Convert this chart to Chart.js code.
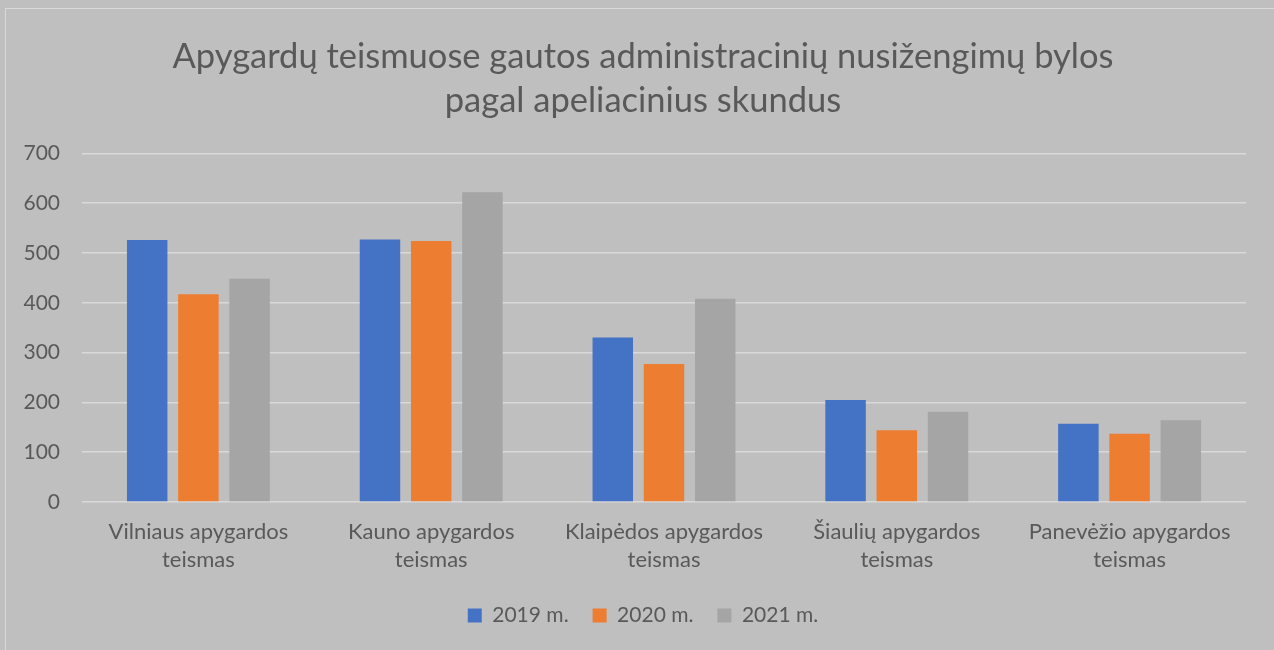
<!DOCTYPE html>
<html>
<head>
<meta charset="utf-8">
<script src="https://cdn.jsdelivr.net/npm/chart.js@4"></script>
<style>
  html, body { margin: 0; padding: 0; background: #bfbfbf; }
  #wrap { position: relative; width: 1274px; height: 650px; overflow: hidden; }
  #frame { position: absolute; left: 5px; top: 8px; width: 1290px; height: 660px; border: 1.5px solid #d9d9d9; box-sizing: border-box; }
  canvas { position: absolute; left: 0; top: 0; }
</style>
</head>
<body>
<div id="wrap">
  <div id="frame"></div>
  <canvas id="chart" width="1274" height="650"></canvas>
</div>
<script>
const categories = [
    ['Vilniaus apygardos', 'teismas'],
    ['Kauno apygardos', 'teismas'],
    ['Klaipėdos apygardos', 'teismas'],
    ['Šiaulių apygardos', 'teismas'],
    ['Panevėžio apygardos', 'teismas']
];
const values2019 = [526, 527, 330, 205, 157];
const values2020 = [417, 524, 277, 144, 137];
const values2021 = [448, 622, 408, 181, 164];
const seriesLabels = ['2019 m.', '2020 m.', '2021 m.'];
const colours = ['#4472C4', '#ED7D31', '#A5A5A5'];

const fontFamily = "Lato, 'Open Sans', sans-serif";
const textColour = '#595959';

document.addEventListener("DOMContentLoaded", function () {
    const series = [values2019, values2020, values2021];
    new Chart(document.getElementById('chart'), {
        type: 'bar',
        data: {
            labels: categories,
            datasets: series.map((vals, i) => ({
                label: seriesLabels[i],
                data: vals,
                backgroundColor: colours[i],
                borderWidth: 0,
                categoryPercentage: 0.66,
                barPercentage: 0.79
            }))
        },
        options: {
            responsive: false,
            animation: false,
            layout: { padding: { top: 35, right: 0, bottom: 14, left: 12 } },
            plugins: {
                title: {
                    display: true,
                    text: ['Apygardų teismuose gautos administracinių nusižengimų bylos', 'pagal apeliacinius skundus'],
                    color: textColour,
                    font: { family: fontFamily, size: 34.5, weight: 'normal', lineHeight: 1.28 },
                    padding: { top: 0, bottom: 30 }
                },
                legend: {
                    position: 'bottom',
                    labels: {
                        color: textColour,
                        font: { family: fontFamily, size: 21 },
                        boxWidth: 14,
                        boxHeight: 14,
                        padding: 24
                    }
                },
                tooltip: { enabled: false }
            },
            scales: {
                x: {
                    afterFit: (scale) => { scale.height = 79; },
                    grid: { display: false },
                    border: { display: false },
                    ticks: {
                        color: textColour,
                        font: { family: fontFamily, size: 22, lineHeight: 1.28 },
                        padding: 8,
                        maxRotation: 0
                    }
                },
                y: {
                    min: 0,
                    max: 700,
                    afterFit: (scale) => { scale.width = 70; },
                    grid: { color: '#d9d9d9', lineWidth: 1.5, drawTicks: false },
                    border: { display: false },
                    ticks: {
                        stepSize: 100,
                        color: textColour,
                        font: { family: fontFamily, size: 21 },
                        padding: 22
                    }
                },
                // empty right axis: only reserves the right margin of the plot
                gap: {
                    type: 'linear',
                    position: 'right',
                    afterFit: (scale) => { scale.width = 28; },
                    grid: { display: false },
                    border: { display: false },
                    ticks: { display: false }
                }
            }
        }
    });
});
</script>
</body>
</html>
